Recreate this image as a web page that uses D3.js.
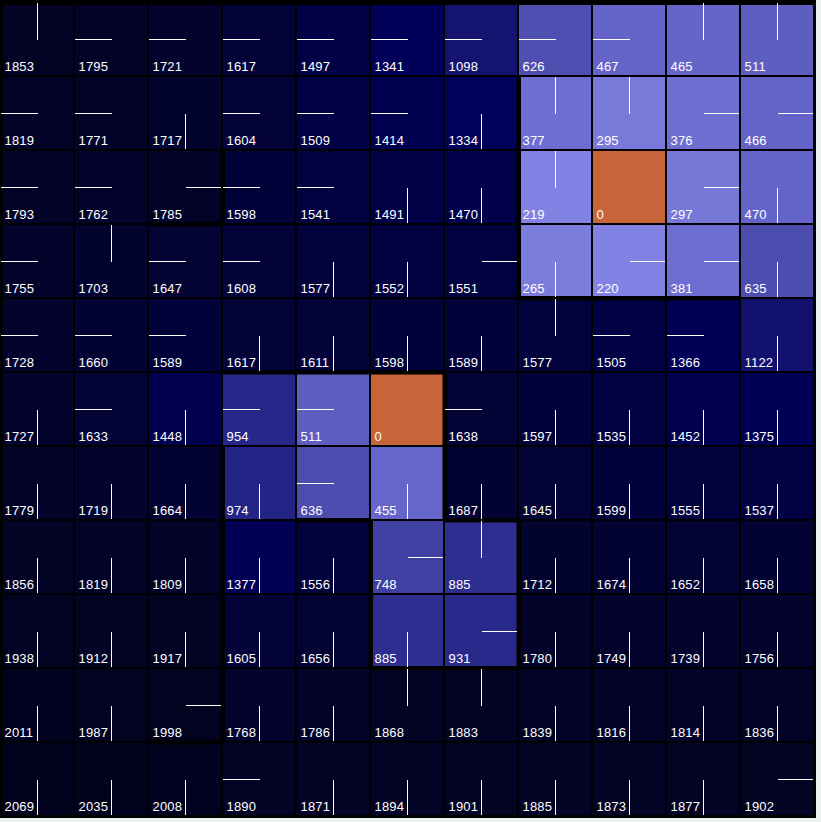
<!DOCTYPE html>
<html>
<head>
<meta charset="utf-8">
<script src="https://cdn.jsdelivr.net/npm/d3@7/dist/d3.min.js"></script>
<style>
  html, body { margin: 0; padding: 0; background: #eef2ee; }
  svg { display: block; }
  text { font-family: "Liberation Sans", Arial, sans-serif; font-size: 13px; fill: #ffffff; letter-spacing: 0.2px; }
</style>
</head>
<body>
<svg id="chart" width="821" height="822"></svg>
<script>
// ---- data ----
const rows = d3.range(11);
const cols = d3.range(11);

const distances = [
  [1853,1795,1721,1617,1497,1341,1098,626,467,465,511],
  [1819,1771,1717,1604,1509,1414,1334,377,295,376,466],
  [1793,1762,1785,1598,1541,1491,1470,219,0,297,470],
  [1755,1703,1647,1608,1577,1552,1551,265,220,381,635],
  [1728,1660,1589,1617,1611,1598,1589,1577,1505,1366,1122],
  [1727,1633,1448,954,511,0,1638,1597,1535,1452,1375],
  [1779,1719,1664,974,636,455,1687,1645,1599,1555,1537],
  [1856,1819,1809,1377,1556,748,885,1712,1674,1652,1658],
  [1938,1912,1917,1605,1656,885,931,1780,1749,1739,1756],
  [2011,1987,1998,1768,1786,1868,1883,1839,1816,1814,1836],
  [2069,2035,2008,1890,1871,1894,1901,1885,1873,1877,1902]
];

// direction of the pointer in each cell: N, S, E, W, or "" for none
const directions = [
  ["N","W","W","W","W","W","W","W","W","N","N"],
  ["W","W","S","W","W","W","S","N","N","E","E"],
  ["W","W","E","W","W","S","S","N","","E","S"],
  ["W","N","W","W","S","S","E","S","E","E","S"],
  ["W","W","W","S","S","S","S","N","W","W","S"],
  ["S","W","S","W","W","","W","S","S","S","S"],
  ["S","S","S","S","W","S","S","S","S","S","S"],
  ["S","S","S","S","S","E","N","S","S","S","S"],
  ["S","S","S","S","S","S","E","S","S","S","S"],
  ["S","S","E","S","S","N","N","S","S","S","S"],
  ["S","S","S","W","S","S","S","S","S","S","E"]
];

// walls: [row, col, side]
const walls = [
  [1,7,"L"],[2,7,"L"],[3,7,"L"],
  [3,7,"B"],[3,8,"B"],[3,9,"B"],
  [2,2,"R"],[2,2,"B"],
  [4,3,"B"],[4,4,"B"],[4,5,"B"],
  [5,5,"R"],[6,5,"R"],
  [6,3,"L"],[7,3,"L"],[8,3,"L"],
  [6,4,"B"],[6,6,"B"],
  [7,6,"R"],[8,6,"R"],
  [8,5,"B"],[8,6,"B"],
  [7,5,"L"],[8,5,"L"],
  [8,2,"R"],[9,2,"R"],[9,2,"B"]
];

// colour stops (distance -> colour)
const colorStops = [219, 300, 380, 470, 511, 630, 750, 885, 960, 1100, 1340, 1450, 1550, 1650, 1800, 2069];
const colorRange = ["#8282e4","#7878d8","#6e6ed2","#6464c8","#5e5ec0","#4e4eb0","#4040a2","#2e2e90","#262688","#141470","#000058","#00004e","#020240","#030334","#030328","#02021e"];
const zeroColor = "#c8643a";

// ---- drawing ----
const svg = d3.select("#chart");
const x = d3.scaleLinear().domain([0, 11]).range([1, 815]);
const y = d3.scaleLinear().domain([0, 11]).range([3, 817]);
const color = d3.scaleLinear().domain(colorStops).range(colorRange).interpolate(d3.interpolateRgb).clamp(true);

const cw = x(1) - x(0) - 2;
const ch = y(1) - y(0) - 2;

svg.append("rect").attr("x", 0).attr("y", 0).attr("width", 816).attr("height", 818).attr("fill", "#000");

const cells = [];
rows.forEach(r => cols.forEach(c => cells.push({r, c, d: distances[r][c], dir: directions[r][c]})));

const g = svg.append("g");
const cell = g.selectAll("g.cell").data(cells).join("g").attr("class", "cell");

cell.append("rect")
  .attr("x", d => x(d.c))
  .attr("y", d => y(d.r))
  .attr("width", cw)
  .attr("height", ch)
  .attr("fill", d => d.d === 0 ? zeroColor : color(d.d));

// walls
svg.append("g").selectAll("rect").data(walls).join("rect")
  .attr("fill", "#000")
  .each(function(w) {
    const [r, c, s] = w;
    const sel = d3.select(this);
    if (s === "L" || s === "R") {
      const gx = (s === "L" ? x(c) : x(c + 1)) - 1; // gap centre
      sel.attr("x", gx - 1.5).attr("width", 4.5).attr("y", y(r) - 1).attr("height", y(1) - y(0) + 1);
    } else {
      const gy = (s === "T" ? y(r) : y(r + 1)) - 1;
      sel.attr("y", gy - 2).attr("height", 4.5).attr("x", x(c) - 1).attr("width", x(1) - x(0) + 1);
    }
  });

// top/left frame
svg.append("rect").attr("x", 0).attr("y", 0).attr("width", 816).attr("height", 5).attr("fill", "#000");
svg.append("rect").attr("x", 0).attr("y", 0).attr("width", 3).attr("height", 818).attr("fill", "#000");

// pointers
const pg = svg.append("g").attr("stroke", "#fff").attr("stroke-width", 1).attr("shape-rendering", "crispEdges");
pg.selectAll("line").data(cells.filter(d => d.dir)).join("line")
  .attr("x1", d => x(d.c) + cw / 2 + 0.5)
  .attr("y1", d => y(d.r) + ch / 2 + 0.5)
  .attr("x2", d => d.dir === "W" ? x(d.c) : d.dir === "E" ? x(d.c) + cw : x(d.c) + cw / 2 + 0.5)
  .attr("y2", d => d.dir === "N" ? y(d.r) : d.dir === "S" ? y(d.r) + ch : y(d.r) + ch / 2 + 0.5);

// labels
svg.append("g").selectAll("text").data(cells).join("text")
  .attr("x", d => x(d.c) + 3.5)
  .attr("y", d => y(d.r) + 68)
  .text(d => d.d);
</script>
</body>
</html>
